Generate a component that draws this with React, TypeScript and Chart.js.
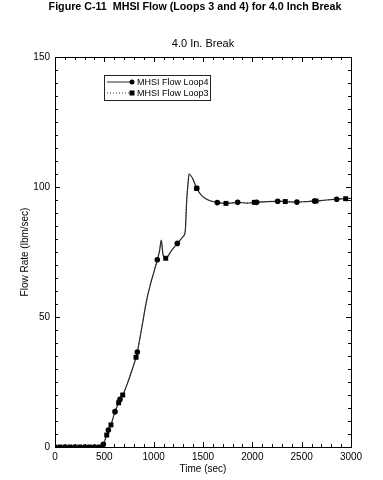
import React, { useEffect, useRef } from "react";
import { Chart, registerables } from "chart.js";

Chart.register(...registerables);

const figureTitle = "Figure C-11  MHSI Flow (Loops 3 and 4) for 4.0 Inch Break";
const chartTitle = "4.0 In. Break";
const xAxisTitle = "Time (sec)";
const yAxisTitle = "Flow Rate (lbm/sec)";
const seriesNames = ["MHSI Flow Loop4", "MHSI Flow Loop3"];

const xMin = 0;
const xMax = 3000;
const xMajorStep = 500;
const xMinorStep = 100;
const yMin = 0;
const yMax = 150;
const yMajorStep = 50;
const yMinorStep = 5;

const timeSec = [
  0, 50, 100, 150, 200, 250, 300, 350, 400, 450,
  470, 490, 524, 541, 567, 608, 645, 659, 686, 730,
  780, 821, 834, 880, 929, 963, 1000, 1037, 1060, 1077,
  1095, 1122, 1180, 1240, 1300, 1320, 1335, 1350, 1358, 1395,
  1436, 1480, 1520, 1580, 1645, 1733, 1851, 1950, 2020, 2044,
  2150, 2257, 2334, 2452, 2550, 2630, 2645, 2750, 2855, 2946,
  3000,
];

const loop4Flow = [
  0, 0, 0, 0, 0, 0, 0, 0, 0, 0,
  0.3, 1, 4.6, 6.5, 8.5, 13.6, 17, 18.3, 20, 24,
  29.5, 34.5, 36.5, 46, 56.5, 62, 67, 72, 75.5, 79.6,
  74, 72.6, 75.5, 78.3, 81, 83, 95, 102, 105, 103.3,
  99.5, 97, 95.7, 94.6, 94, 93.7, 94.1, 93.8, 94.1, 94.1,
  94.4, 94.5, 94.4, 94.2, 94.4, 94.6, 94.6, 95, 95.3, 95.5,
  95.6,
];

const loop3Flow = [
  0, 0, 0, 0, 0, 0, 0, 0, 0, 0,
  0.3, 1, 4.6, 6.5, 8.5, 13.6, 17, 18.3, 20, 24,
  29.5, 34.5, 36.5, 46, 56.5, 62, 67, 72, 75.5, 79.4,
  74, 72.6, 75.5, 78.3, 81, 83, 95, 102, 104.8, 103.3,
  99.5, 97, 95.7, 94.6, 94, 93.7, 94.1, 93.8, 94.1, 94.1,
  94.4, 94.5, 94.4, 94.2, 94.4, 94.6, 94.6, 95, 95.3, 95.5,
  95.6,
];

const loop4MarkerTimes = [0, 100, 200, 300, 400, 490, 541, 608, 659, 834, 1037, 1240, 1436, 1645, 1851, 2044, 2257, 2452, 2630, 2855];
const loop3MarkerTimes = [50, 150, 250, 350, 450, 524, 567, 645, 686, 821, 1122, 1436, 1733, 2020, 2334, 2645, 2946];

const FONT = "'Liberation Sans', Arial, Helvetica, sans-serif";
const LINE_COLOR = "#2e2a2a";

const decorPlugin = {
  id: "decor",
  afterDraw(chart: any) {
    const { ctx, chartArea } = chart;
    const { left, right, top, bottom } = chartArea;
    const xs = chart.scales.x;
    const ys = chart.scales.y;
    ctx.save();
    // frame
    ctx.strokeStyle = "#000";
    ctx.lineWidth = 1;
    ctx.strokeRect(Math.round(left) + 0.5, Math.round(top) + 0.5, Math.round(right - left), Math.round(bottom - top));
    // ticks, inward on all four sides
    ctx.beginPath();
    for (let v = xMin; v <= xMax; v += xMinorStep) {
      const px = Math.round(xs.getPixelForValue(v)) + 0.5;
      const len = v % xMajorStep === 0 ? 5 : 3;
      ctx.moveTo(px, bottom);
      ctx.lineTo(px, bottom - len);
      ctx.moveTo(px, top);
      ctx.lineTo(px, top + len);
    }
    for (let v = yMin; v <= yMax; v += yMinorStep) {
      const py = Math.round(ys.getPixelForValue(v)) + 0.5;
      const len = v % yMajorStep === 0 ? 5 : 3;
      ctx.moveTo(left, py);
      ctx.lineTo(left + len, py);
      ctx.moveTo(right, py);
      ctx.lineTo(right - len, py);
    }
    ctx.stroke();

    // titles
    ctx.fillStyle = "#000";
    ctx.textAlign = "center";
    ctx.textBaseline = "middle";
    ctx.font = `bold 10.7px ${FONT}`;
    ctx.fillText(figureTitle, 195, 7);
    ctx.font = `11px ${FONT}`;
    ctx.fillText(chartTitle, (left + right) / 2, 44);

    // legend
    const lx = 104.5, ly = 75.5, lw = 106, lh = 25;
    ctx.lineWidth = 1;
    ctx.strokeStyle = "#222";
    ctx.strokeRect(lx, ly, lw, lh);
    const rows = [
      { y: 82, dash: [] as number[], style: "circle" },
      { y: 93, dash: [1, 2], style: "rect" },
    ];
    rows.forEach((r, i) => {
      ctx.beginPath();
      ctx.setLineDash(r.dash);
      ctx.strokeStyle = LINE_COLOR;
      ctx.moveTo(107, r.y);
      ctx.lineTo(132, r.y);
      ctx.stroke();
      ctx.setLineDash([]);
      ctx.fillStyle = "#000";
      if (r.style === "circle") {
        ctx.beginPath();
        ctx.arc(132, r.y, 2.5, 0, Math.PI * 2);
        ctx.fill();
      } else {
        ctx.fillRect(129.5, r.y - 2.5, 5, 5);
      }
      ctx.font = `9px ${FONT}`;
      ctx.textAlign = "left";
      ctx.fillText(seriesNames[i], 137, r.y + 0.5);
    });
    ctx.restore();
  },
};

export default function App() {
  const canvasRef = useRef<HTMLCanvasElement | null>(null);

  useEffect(() => {
    const canvas = canvasRef.current;
    if (!canvas) return;
    Chart.defaults.font.family = FONT;
    Chart.defaults.font.size = 10;
    Chart.defaults.color = "#000";

    const mk = (flows: number[]) => timeSec.map((t, i) => ({ x: t, y: flows[i] }));

    const chart = new Chart(canvas, {
      type: "line",
      data: {
        datasets: [
          {
            label: seriesNames[1],
            data: mk(loop3Flow),
            borderColor: LINE_COLOR,
            borderWidth: 1,
            borderDash: [1, 2],
            pointStyle: "rect",
            pointBackgroundColor: "#000",
            pointBorderColor: "#000",
            pointBorderWidth: 0,
            pointRadius: (c: any) => (loop3MarkerTimes.includes(timeSec[c.dataIndex]) ? 3.5 : 0),
            cubicInterpolationMode: "monotone",
          },
          {
            label: seriesNames[0],
            data: mk(loop4Flow),
            borderColor: LINE_COLOR,
            borderWidth: 1.2,
            pointStyle: "circle",
            pointBackgroundColor: "#000",
            pointBorderColor: "#000",
            pointBorderWidth: 0,
            pointRadius: (c: any) => (loop4MarkerTimes.includes(timeSec[c.dataIndex]) ? 2.8 : 0),
            cubicInterpolationMode: "monotone",
          },
        ],
      },
      options: {
        animation: false,
        responsive: false,
        maintainAspectRatio: false,
        layout: { padding: { top: 57, right: 32, left: 0, bottom: 0 } },
        plugins: {
          legend: { display: false },
          title: { display: false },
          tooltip: { enabled: false },
        },
        scales: {
          x: {
            type: "linear",
            min: xMin,
            max: xMax,
            grid: { display: false, drawTicks: false },
            border: { display: false },
            ticks: {
              stepSize: xMajorStep,
              padding: 4,
              maxRotation: 0,
              autoSkip: false,
              color: "#000",
              font: { size: 10 },
              callback: (v: any) => String(v),
            },
            title: { display: true, text: xAxisTitle, padding: { top: 0, bottom: 5 }, color: "#000", font: { size: 10 } },
            afterFit: (s: any) => {
              s.height = 33;
            },
          },
          y: {
            type: "linear",
            min: yMin,
            max: yMax,
            grid: { display: false, drawTicks: false },
            border: { display: false },
            ticks: { stepSize: yMajorStep, padding: 5, color: "#000", font: { size: 10 }, callback: (v: any) => String(v) },
            title: { display: true, text: yAxisTitle, padding: { top: 19, bottom: 0 }, color: "#000", font: { size: 10 } },
            afterFit: (s: any) => {
              s.width = 55;
            },
          },
        },
      },
      plugins: [decorPlugin],
    } as any);

    return () => chart.destroy();
  }, []);

  return (
    <div style={{ position: "absolute", left: 0, top: 0, width: 383, height: 480, background: "#fff" }}>
      <canvas ref={canvasRef} width={383} height={480} style={{ display: "block", width: 383, height: 480 }} />
    </div>
  );
}
